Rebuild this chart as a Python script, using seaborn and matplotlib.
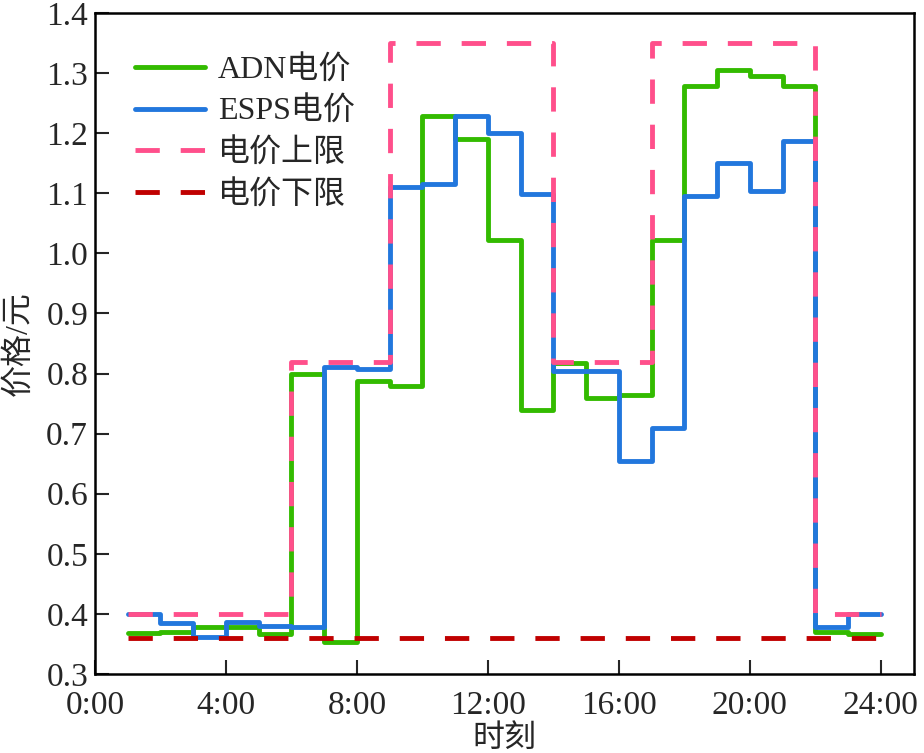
import numpy as np
import matplotlib
matplotlib.use("Agg")
import matplotlib.pyplot as plt
import seaborn as sns

# hourly prices, hour 1..23 (step held until next hour, last one to 24:00)
hours = list(range(1, 25))
adn_price = [0.368, 0.370, 0.378, 0.378, 0.366, 0.800, 0.353, 0.788, 0.780,
             1.228, 1.191, 1.022, 0.740, 0.818, 0.760, 0.765, 1.022, 1.278,
             1.306, 1.296, 1.278, 0.370, 0.366]
esps_price = [0.400, 0.384, 0.362, 0.387, 0.380, 0.378, 0.811, 0.808, 1.110,
              1.116, 1.228, 1.200, 1.099, 0.804, 0.805, 0.655, 0.710, 1.095,
              1.150, 1.103, 1.187, 0.378, 0.400]
upper_limit = [0.40, 0.40, 0.40, 0.40, 0.40, 0.82, 0.82, 0.82, 1.35,
               1.35, 1.35, 1.35, 1.35, 0.82, 0.82, 0.82, 1.35, 1.35,
               1.35, 1.35, 1.35, 0.40, 0.40]
lower_limit = [0.36] * 23

xticks = [0, 4, 8, 12, 16, 20, 24]
xticklabels = ["0:00", "4:00", "8:00", "12:00", "16:00", "20:00", "24:00"]
yticks = [0.3, 0.4, 0.5, 0.6, 0.7, 0.8, 0.9, 1.0, 1.1, 1.2, 1.3, 1.4]

sns.set_style("white")
plt.rcParams['font.family'] = ['Liberation Serif', 'Noto Sans CJK SC']
plt.rcParams['axes.unicode_minus'] = False

fig = plt.figure(figsize=(9.24, 7.53), dpi=100)
ax = fig.add_axes([0.1028, 0.105, 0.886, 0.8777])

def ext(v):
    return v + [v[-1]]

dash = (0, (5, 4.3))
sns.lineplot(x=hours, y=ext(adn_price), ax=ax, color="#33bb00", lw=3.5,
             drawstyle="steps-post", label="ADN电价", zorder=2)
sns.lineplot(x=hours, y=ext(esps_price), ax=ax, color="#2277dd", lw=3.5,
             drawstyle="steps-post", label="ESPS电价", zorder=3)
sns.lineplot(x=hours, y=ext(upper_limit), ax=ax, color="#ff4f8b", lw=3.5,
             drawstyle="steps-post", linestyle=dash, label="电价上限", zorder=4)
sns.lineplot(x=hours, y=ext(lower_limit), ax=ax, color="#c00000", lw=3.5,
             drawstyle="steps-post", linestyle=dash, label="电价下限", zorder=5)

ax.set_xlim(0, 25)
ax.set_ylim(0.3, 1.4)
ax.set_xticks(xticks)
ax.set_xticklabels(xticklabels)
ax.set_yticks(yticks)
ax.set_yticklabels([f"{v:.1f}" for v in yticks])
ax.tick_params(direction="in", length=10, width=1.5, labelsize=24,
               top=False, right=False, left=True, bottom=True)
ax.tick_params(axis="x", pad=12)
ax.tick_params(axis="y", pad=5)
for s in ax.spines.values():
    s.set_linewidth(1.8)
    s.set_color("black")

ax.set_xlabel("时刻", fontsize=23, labelpad=3)
ax.set_ylabel("价格/元", fontsize=23, labelpad=9)

leg = ax.legend(loc="upper left", frameon=False, fontsize=23,
                handlelength=2.2, handletextpad=0.4, labelspacing=0.36,
                borderpad=0, borderaxespad=0,
                bbox_to_anchor=(0.049, 0.936))

fig.savefig("out.png", dpi=100)
